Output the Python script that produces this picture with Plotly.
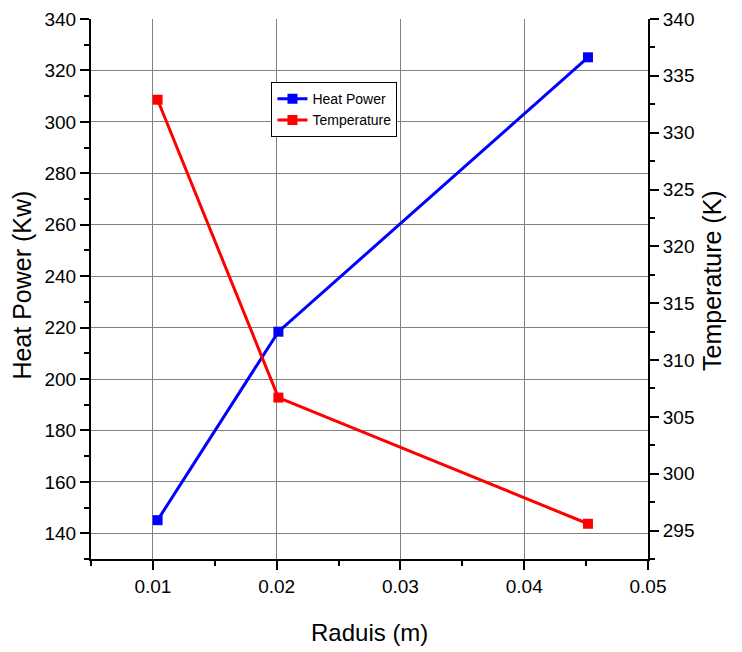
import plotly.graph_objs as go

# data
radius = [0.01038, 0.02014, 0.04515]
heat_power = [145.1, 218.4, 325.1]
temperature = [332.9, 306.7, 295.6]

FONT = "Liberation Sans, Arial, sans-serif"

trace_hp = go.Scatter(x=radius, y=heat_power, name="Heat Power",
                      mode="lines+markers",
                      line=dict(color="#0000FF", width=3),
                      marker=dict(symbol="square", size=10, color="#0000FF"))
trace_t = go.Scatter(x=radius, y=temperature, name="Temperature",
                     mode="lines+markers", yaxis="y2",
                     line=dict(color="#FF0000", width=3),
                     marker=dict(symbol="square", size=10, color="#FF0000"))

tickfont = dict(family=FONT, size=19, color="black")
titlefont = dict(family=FONT, size=24, color="black")
ytitlefont = dict(family=FONT, size=25, color="black")

common = dict(tickcolor="black", tickwidth=2, showline=True, linewidth=2,
              linecolor="black", zeroline=False, automargin=False)

layout = go.Layout(
    width=742, height=652,
    margin=dict(l=83, r=102, t=11, b=101),
    plot_bgcolor="white", paper_bgcolor="white",
    font=dict(family=FONT, color="black"),
    xaxis=dict(range=[0.005, 0.05], tick0=0.01, dtick=0.01, tickformat=".2f",
               ticks="outside", ticklen=9,
               minor=dict(dtick=0.005, tick0=0.005, ticks="outside", ticklen=5,
                          tickwidth=2, tickcolor="black", showgrid=False),
               showgrid=True, gridcolor="#808080", gridwidth=1,
               tickfont=tickfont, **common),
    xaxis2=dict(overlaying="x", side="top", anchor="y", range=[0.005, 0.05],
                tick0=0.01, dtick=0.01, ticks="inside", ticklen=9,
                minor=dict(dtick=0.005, tick0=0.005, ticks="inside", ticklen=5,
                           tickwidth=2, tickcolor="black"),
                showticklabels=False, showgrid=False, **common),
    yaxis=dict(range=[130, 340], tick0=140, dtick=20,
               ticks="outside", ticklen=9,
               minor=dict(dtick=10, tick0=130, ticks="outside", ticklen=5,
                          tickwidth=2, tickcolor="black", showgrid=False),
               showgrid=True, gridcolor="#808080", gridwidth=1,
               tickfont=tickfont, **common),
    yaxis2=dict(overlaying="y", side="right", range=[292.5, 340],
                tick0=295, dtick=5, ticks="outside", ticklen=9,
                minor=dict(dtick=2.5, tick0=292.5, ticks="outside", ticklen=5,
                           tickwidth=2, tickcolor="black", showgrid=False),
                showgrid=False, tickfont=tickfont, **common),
    legend=dict(x=0.324, y=0.883, xanchor="left", yanchor="top",
                bgcolor="white", bordercolor="black", borderwidth=1,
                font=dict(family=FONT, size=14, color="black"),
                tracegroupgap=0, itemwidth=30),
    showlegend=True,
    annotations=[
        dict(text="Raduis (m)", xref="paper", yref="paper", x=0.5, y=-0.136,
             xanchor="center", yanchor="middle", showarrow=False, font=titlefont),
        dict(text="Heat Power (Kw)", xref="paper", yref="paper", x=-0.124,
             y=0.508, textangle=-90, xanchor="center", yanchor="middle",
             showarrow=False, font=ytitlefont),
        dict(text="Temperature (K)", xref="paper", yref="paper", x=1.115,
             y=0.515, textangle=-90, xanchor="center", yanchor="middle",
             showarrow=False, font=ytitlefont),
    ],
)

fig = go.Figure(data=[trace_hp, trace_t], layout=layout)
fig.write_html("out.html")
